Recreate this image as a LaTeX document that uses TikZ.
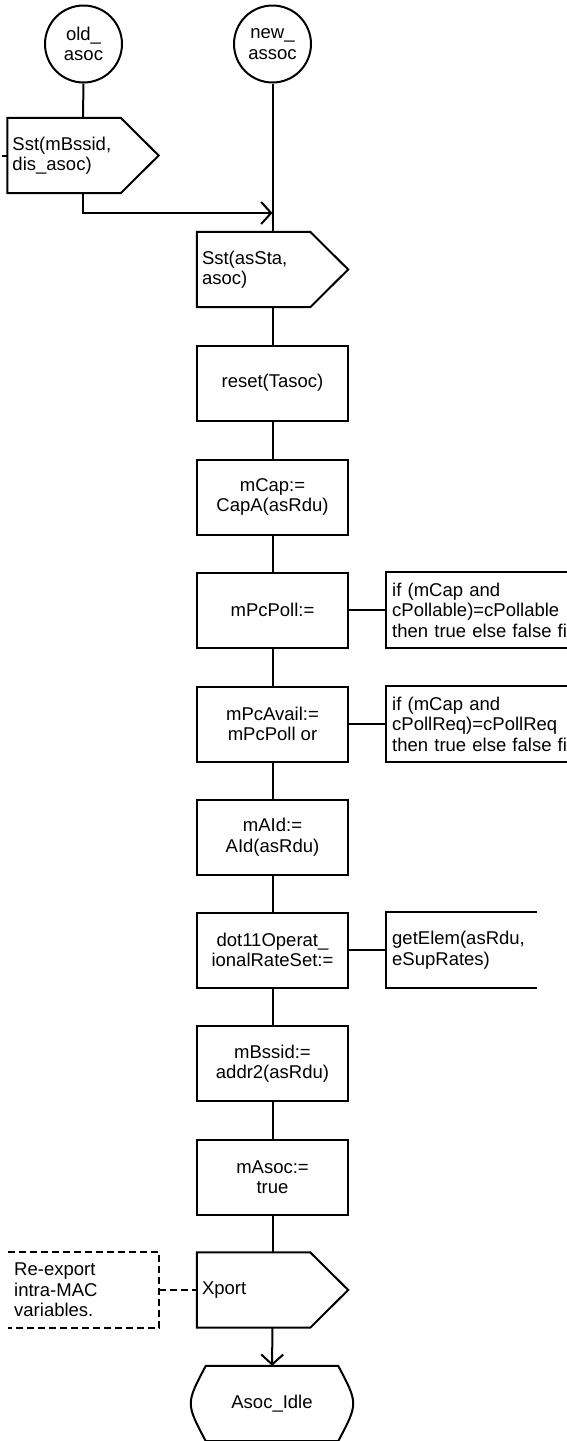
\documentclass[tikz,border=0pt]{standalone}
\usepackage{fontspec}
\setmainfont{Liberation Sans}
\usepackage{xcolor}
\usepackage{tikz}
\usetikzlibrary{
    arrows.meta,
    positioning,
    calc
}

\tikzset{
    sdl/.style={line width=2pt},
    conn/.style={sdl, draw, circle, minimum size=77pt, inner sep=0pt, align=center},
    task/.style={sdl, draw, rectangle, minimum width=151pt, minimum height=75pt, inner sep=4pt, align=center},
    outsig/.style={rectangle, minimum width=151pt, minimum height=75pt, text width=141pt, inner sep=5pt, align=left},
    extbox/.style={rectangle, anchor=west, minimum height=75pt, inner sep=6pt, align=left},
    statebox/.style={rectangle, minimum width=152pt, minimum height=75pt, align=center},
    notedash/.style={sdl, dash pattern=on 7pt off 4pt},
    flow/.style={sdl, -{Straight Barb[length=10pt,width=22pt]}}
}

% output symbol drawn round a plain node
\newcommand{\sdlout}[1]{\draw[sdl] (#1.north west) -- ([xshift=-38pt]#1.north east) -- (#1.east) -- ([xshift=-38pt]#1.south east) -- (#1.south west) -- cycle;}
% text extension, open on the right
\newcommand{\sdlext}[1]{\draw[sdl] (#1.north east) -- (#1.north west) -- (#1.south west) -- (#1.south east);}

\begin{document}
\begin{tikzpicture}[x=1pt, y=-1pt, font=\fontsize{18.5}{20.5}\selectfont]
    \useasboundingbox (0,0) rectangle (567,1441);

    % start connectors
    \node[conn] (old) at (83.5,44) {old\_\\asoc};
    \node[conn] (new) at (272.5,44) {new\_\\assoc};

    \node[outsig] (sst1) at (83,155.5) {Sst(mBssid,\\dis\_asoc)};
    \sdlout{sst1}
    \draw[sdl] (sst1.west) -- ++(-5,0);

    \coordinate (merge) at (272.5,213);
    \node[outsig] (sst2) at (272.5,269.5) {Sst(asSta,\\asoc)};
    \sdlout{sst2}

    % tasks
    \node[task] (reset) at (272.5,383) {reset(Tasoc)};
    \node[task] (mcap) at (272.5,497) {mCap:=\\CapA(asRdu)};
    \node[task] (pcpoll) at (272.5,610) {mPcPoll:=};
    \node[task] (pcavail) at (272.5,724) {mPcAvail:=\\mPcPoll or};
    \node[task] (maid) at (272.5,837) {mAId:=\\AId(asRdu)};
    \node[task] (oprate) at (272.5,950) {dot11Operat\_\\ionalRateSet:=};
    \node[task] (bssid) at (272.5,1063.5) {mBssid:=\\addr2(asRdu)};
    \node[task] (masoc) at (272.5,1177) {mAsoc:=\\true};

    \node[outsig] (xport) at (272.5,1290) {Xport};
    \sdlout{xport}

    \node[statebox] (idle) at (272,1403.5) {Asoc\_Idle};
    \draw[sdl] ([xshift=10pt]idle.north west) -- ([xshift=-10pt]idle.north east)
        .. controls ([xshift=10pt]idle.east) .. ([xshift=-10pt]idle.south east)
        -- ([xshift=10pt]idle.south west)
        .. controls ([xshift=-10pt]idle.west) .. ([xshift=10pt]idle.north west) -- cycle;

    % text extensions
    \node[extbox, text width=175pt] (xpoll) at (386,610) {if (mCap and\\cPollable)=cPollable\\then true else false fi};
    \node[extbox, text width=175pt] (xavail) at (386,724) {if (mCap and\\cPollReq)=cPollReq\\then true else false fi};
    \node[extbox, text width=139pt] (xrate) at (386,950) {getElem(asRdu,\\eSupRates)};
    \foreach \e in {xpoll, xavail, xrate}
        {\sdlext{\e}}

    % comment
    \node[extbox, text width=139pt] (note) at (8,1290) {Re-export\\intra-MAC\\variables.};
    \draw[notedash] (note.north west) -- (note.north east) -- (note.south east) -- (note.south west);
    \draw[notedash] (note.east) -- (xport.west);

    % flow lines
    \draw[sdl] (old) -- (sst1);
    \draw[flow] (sst1.south) |- (merge);
    \draw[sdl] (new) -- (sst2);
    \foreach \a/\b in {sst2/reset, reset/mcap, mcap/pcpoll, pcpoll/pcavail, pcavail/maid, maid/oprate, oprate/bssid, bssid/masoc, masoc/xport}
        \draw[sdl] (\a) -- (\b);
    \draw[sdl] (pcpoll) -- (xpoll);
    \draw[sdl] (pcavail.east) -- (xavail.west);
    \draw[sdl] (oprate) -- (xrate);
    \draw[flow] (xport) -- (idle);
\end{tikzpicture}
\end{document}
